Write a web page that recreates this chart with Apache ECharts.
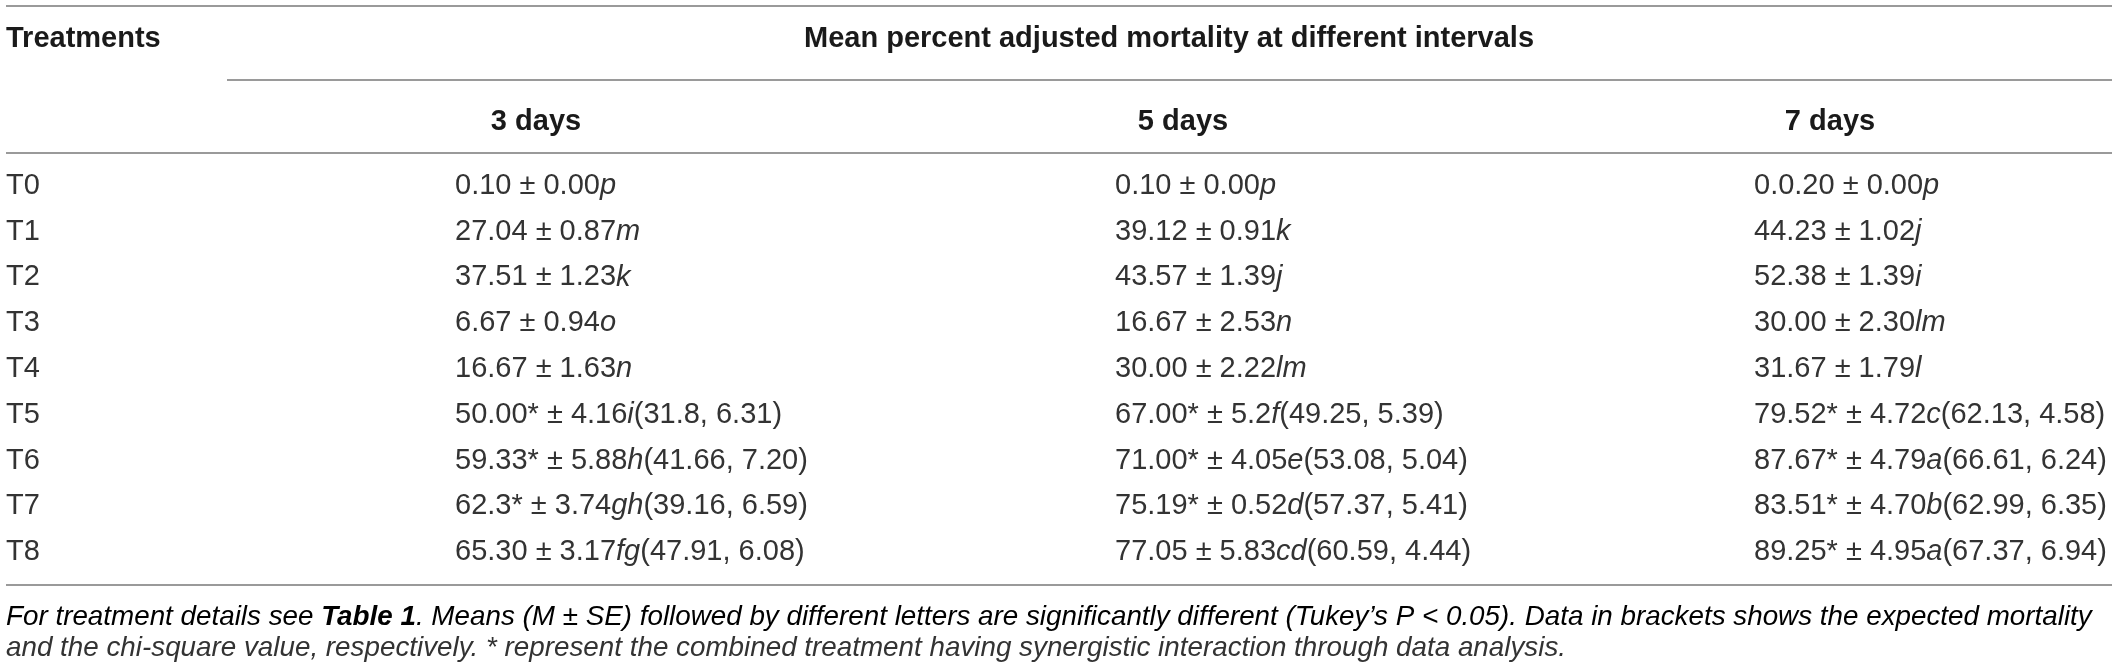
<!DOCTYPE html>
<html lang="en">
<head>
    <meta charset="UTF-8">
    <title>Mean percent adjusted mortality</title>
    <script src="https://cdn.jsdelivr.net/npm/echarts@6/dist/echarts.min.js"></script>
    <style>
        html, body { margin: 0; padding: 0; background: #fff; }
        #main { width: 2119px; height: 669px; }
    </style>
</head>
<body>
    <div id="main"></div>
    <script>
        // rows and columns of the table
        var treatments = ['T0', 'T1', 'T2', 'T3', 'T4', 'T5', 'T6', 'T7', 'T8'];
        var intervals = ['3 days', '5 days', '7 days'];

        // 3 days
        var mean3 = ['0.10', '27.04', '37.51', '6.67', '16.67', '50.00*', '59.33*', '62.3*', '65.30'];
        var se3 = ['0.00', '0.87', '1.23', '0.94', '1.63', '4.16', '5.88', '3.74', '3.17'];
        var grp3 = ['p', 'm', 'k', 'o', 'n', 'i', 'h', 'gh', 'fg'];
        var exp3 = ['', '', '', '', '', '31.8, 6.31', '41.66, 7.20', '39.16, 6.59', '47.91, 6.08'];

        // 5 days
        var mean5 = ['0.10', '39.12', '43.57', '16.67', '30.00', '67.00*', '71.00*', '75.19*', '77.05'];
        var se5 = ['0.00', '0.91', '1.39', '2.53', '2.22', '5.2', '4.05', '0.52', '5.83'];
        var grp5 = ['p', 'k', 'j', 'n', 'lm', 'f', 'e', 'd', 'cd'];
        var exp5 = ['', '', '', '', '', '49.25, 5.39', '53.08, 5.04', '57.37, 5.41', '60.59, 4.44'];

        // 7 days
        var mean7 = ['0.0.20', '44.23', '52.38', '30.00', '31.67', '79.52*', '87.67*', '83.51*', '89.25*'];
        var se7 = ['0.00', '1.02', '1.39', '2.30', '1.79', '4.72', '4.79', '4.70', '4.95'];
        var grp7 = ['p', 'j', 'i', 'lm', 'l', 'c', 'a', 'b', 'a'];
        var exp7 = ['', '', '', '', '', '62.13, 4.58', '66.61, 6.24', '62.99, 6.35', '67.37, 6.94'];

        var headLeft = 'Treatments';
        var headTop = 'Mean percent adjusted mortality at different intervals';
        var note1 = ['For treatment details see ', 'Table 1', '. Means (M \u00b1 SE) followed by different letters are significantly different (Tukey\u2019s P < 0.05). Data in brackets shows the expected mortality'];
        var note2 = 'and the chi-square value, respectively. * represent the combined treatment having synergistic interaction through data analysis.';

        var FONT = '"Liberation Sans", Arial, Helvetica, sans-serif';
        var TXT = '#333';
        var HEAD = '#1a1a1a';
        var RULE = '#9a9a9a';
        var CELL_SIZE = 29;
        // where each column's values start, relative to the column centre
        var valueShift = [-81, -68, -76];

        var cols = [
            [mean3, se3, grp3, exp3],
            [mean5, se5, grp5, exp5],
            [mean7, se7, grp7, exp7]
        ];

        // one item per cell: [column, row], text kept alongside
        var cells = [];
        var cellText = [];
        cols.forEach(function (c, ci) {
            treatments.forEach(function (t, ri) {
                var s = '{n|' + c[0][ri] + ' \u00b1 ' + c[1][ri] + '}{i|' + c[2][ri] + '}';
                if (c[3][ri]) s += '{n|(' + c[3][ri] + ')}';
                cells.push([ci, ri]);
                cellText.push(s);
            });
        });

        var cellRich = {
            n: { fontFamily: FONT, fontSize: CELL_SIZE, color: TXT },
            i: { fontFamily: FONT, fontSize: CELL_SIZE, color: TXT, fontStyle: 'italic' }
        };

        var myChart = echarts.init(document.getElementById('main'));

        function rule(x1, x2, y) {
            return {
                type: 'line',
                shape: { x1: x1, y1: y, x2: x2, y2: y },
                style: { stroke: RULE, lineWidth: 2 },
                silent: true
            };
        }

        var option = {
            animation: false,
            // column centres sit on the grid edges (boundaryGap false)
            grid: { left: 536, right: 289, top: 163, height: 412 },
            xAxis: {
                type: 'category',
                data: intervals,
                boundaryGap: false,
                position: 'top',
                axisLine: { show: false },
                axisTick: { show: false },
                splitLine: { show: false },
                axisLabel: {
                    margin: 27,
                    fontFamily: FONT,
                    fontSize: 29,
                    fontWeight: 'bold',
                    color: HEAD
                }
            },
            yAxis: {
                type: 'category',
                data: treatments,
                inverse: true,
                axisLine: { show: false },
                axisTick: { show: false },
                splitLine: { show: false },
                axisLabel: {
                    align: 'left',
                    margin: 530,
                    fontFamily: FONT,
                    fontSize: 29,
                    color: TXT
                }
            },
            series: [{
                type: 'custom',
                data: cells,
                encode: { x: 0, y: 1 },
                silent: true,
                clip: false,
                renderItem: function (params, api) {
                    var ci = api.value(0);
                    var p = api.coord([ci, api.value(1)]);
                    return {
                        type: 'text',
                        x: p[0] + valueShift[ci],
                        y: p[1],
                        style: {
                            text: cellText[params.dataIndex],
                            rich: cellRich,
                            font: CELL_SIZE + 'px ' + FONT,
                            fill: TXT,
                            align: 'left',
                            verticalAlign: 'middle'
                        }
                    };
                }
            }],
            graphic: [
                rule(6, 2112, 6),
                rule(227, 2112, 80),
                rule(6, 2112, 153),
                rule(6, 2112, 585),
                {
                    type: 'text',
                    style: {
                        x: 6, y: 39, text: headLeft,
                        font: 'bold 29px ' + FONT, fill: HEAD,
                        align: 'left', verticalAlign: 'middle'
                    }
                },
                {
                    type: 'text',
                    style: {
                        x: 1169, y: 39, text: headTop,
                        font: 'bold 29px ' + FONT, fill: HEAD,
                        align: 'center', verticalAlign: 'middle'
                    }
                },
                {
                    type: 'text',
                    style: {
                        x: 6, y: 617,
                        text: '{i|' + note1[0] + '}{b|' + note1[1] + '}{i|' + note1[2] + '}',
                        rich: {
                            i: { fontFamily: FONT, fontSize: 27.8, fontStyle: 'italic', color: TXT },
                            b: { fontFamily: FONT, fontSize: 27.8, fontStyle: 'italic', fontWeight: 'bold', color: HEAD }
                        },
                        align: 'left', verticalAlign: 'middle'
                    }
                },
                {
                    type: 'text',
                    style: {
                        x: 6, y: 648, text: note2,
                        font: 'italic 27.8px ' + FONT, fill: TXT,
                        align: 'left', verticalAlign: 'middle'
                    }
                }
            ]
        };

        myChart.setOption(option);
    </script>
</body>
</html>
